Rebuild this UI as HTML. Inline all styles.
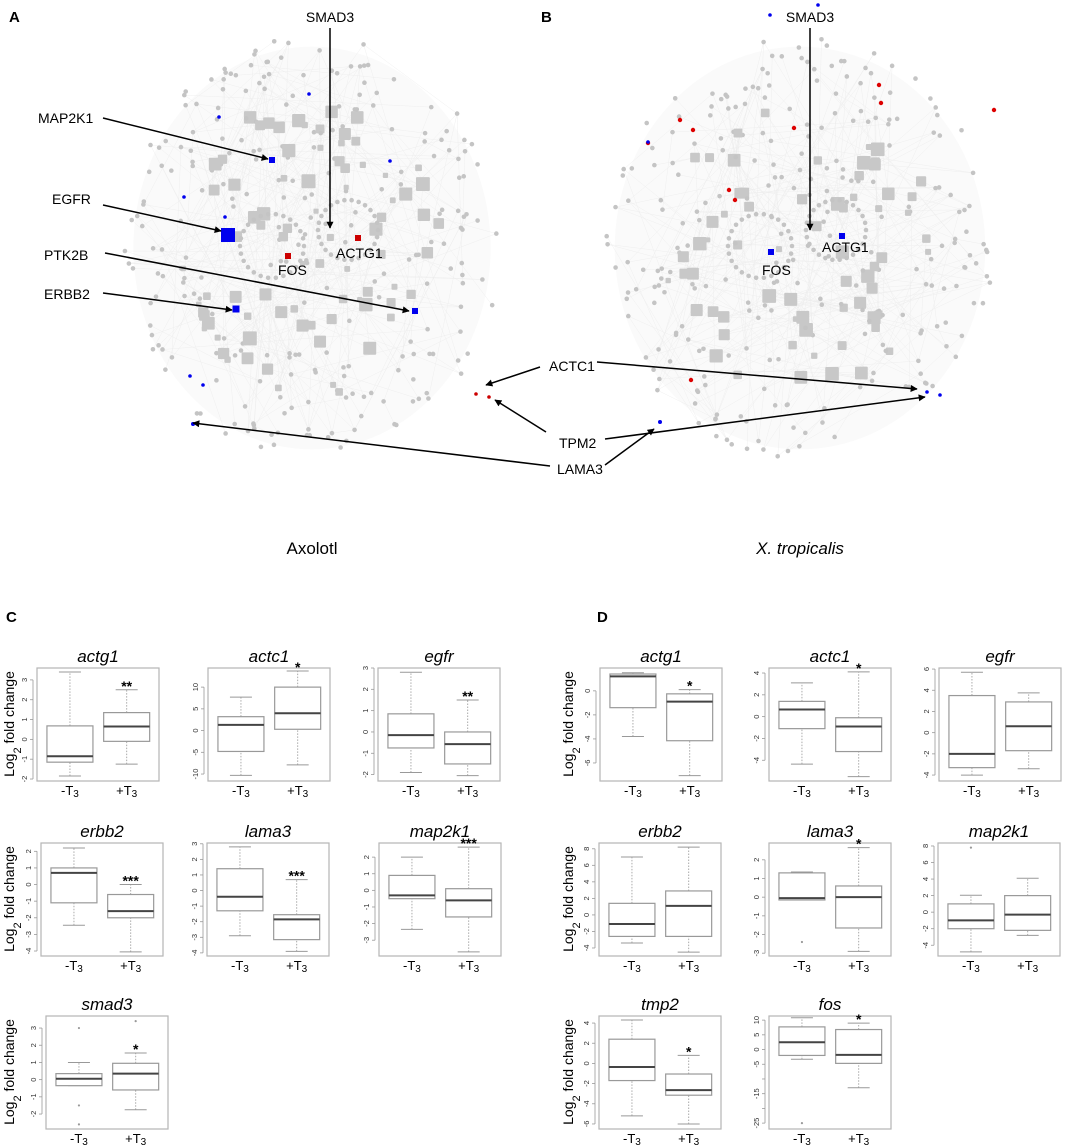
<!DOCTYPE html>
<html><head><meta charset="utf-8">
<style>
html,body{margin:0;padding:0;background:#fff;}
svg{display:block;font-family:"Liberation Sans",sans-serif;}
</style></head>
<body>
<svg id="fig" width="1084" height="1145" viewBox="0 0 1084 1145" xmlns="http://www.w3.org/2000/svg">
<defs>
<marker id="ah" viewBox="0 0 10 10" refX="9" refY="5" markerWidth="9" markerHeight="7" orient="auto" markerUnits="userSpaceOnUse"><path d="M0,0 L10,5 L0,10 z" fill="#000"/></marker>
</defs>
<g id="netA"></g>
<g id="netB"></g>
<g id="annot"></g>
<g id="boxes"></g>
<text x="9" y="22" font-size="15" font-weight="bold">A</text>
<text x="541" y="22" font-size="15" font-weight="bold">B</text>
<text x="6" y="622" font-size="15" font-weight="bold">C</text>
<text x="597" y="622" font-size="15" font-weight="bold">D</text>
<text x="312" y="554" font-size="17" text-anchor="middle">Axolotl</text>
<text x="800" y="554" font-size="17" font-style="italic" text-anchor="middle">X. tropicalis</text>
</svg>
<script>
// ---------- box plot data ----------
const genes = ["actg1","actc1","egfr","erbb2","lama3","map2k1","smad3","actg1","actc1","egfr","erbb2","lama3","map2k1","tmp2","fos"];
const panelSide = ["C","C","C","C","C","C","C","D","D","D","D","D","D","D","D"];
const yDomains = [[-2.1,3.6],[-11.6,14.4],[-2.3,3],[-4.3,2.5],[-4.2,3.05],[-3.95,2.85],[-2.87,3.7],
  [-7.5,1.9],[-5.9,4.46],[-4.56,6.1],[-4.97,8.7],[-3.15,2.9],[-5.3,8.36],[-6.5,4.7],[-27,11.4]];
const yTicks = [[-2,-1,0,1,2,3],[-10,-5,0,5,10],[-2,-1,0,1,2,3],[-4,-3,-2,-1,0,1,2],[-4,-3,-2,-1,0,1,2,3],[-3,-2,-1,0,1,2],[-2,-1,0,1,2,3],
  [-6,-4,-2,0],[-4,-2,0,2,4],[-4,-2,0,2,4,6],[-4,-2,0,2,4,6,8],[-3,-2,-1,0,1,2],[-4,-2,0,2,4,6,8],[-6,-4,-2,0,2,4],[-25,-20,-15,-10,-5,0,5,10]];
const yTickLabels = [["-2","-1","0","1","2","3"],["-10","-5","0","5","10"],["-2","-1","0","1","2","3"],["-4","-3","-2","-1","0","1","2"],["-4","-3","-2","-1","0","1","2","3"],["-3","-2","-1","0","1","2"],["-2","-1","0","1","2","3"],
  ["-6","-4","-2","0"],["-4","-2","0","2","4"],["-4","-2","0","2","4","6"],["-4","-2","0","2","4","6","8"],["-3","-2","-1","0","1","2"],["-4","-2","0","2","4","6","8"],["-6","-4","-2","0","2","4"],["-25","","-15","","-5","0","5","10"]];
// [lower whisker, q1, median, q3, upper whisker]
const minusT3 = [[-1.85,-1.15,-0.85,0.68,3.4],[-10.3,-4.8,1.3,3.2,7.7],[-1.9,-0.75,-0.15,0.85,2.8],[-2.45,-1.1,0.7,1,2.2],[-2.9,-1.3,-0.4,1.4,2.8],[-2.35,-0.5,-0.3,0.9,2.0],[-0.35,-0.35,0.05,0.35,1.0],
  [-3.8,-1.4,1.2,1.4,1.5],[-4.35,-1.1,0.65,1.4,3.1],[-4.0,-3.3,-2.0,3.5,5.7],[-3.4,-2.6,-1.1,1.4,7.0],[-0.15,-0.15,-0.05,1.3,1.35],[-4.8,-2,-1,1,2.05],[-5.2,-1.7,-0.35,2.4,4.3],[-3.3,-2,2.5,7.7,10.8]];
const plusT3 = [[-1.25,-0.1,0.65,1.35,2.5],[-7.9,0.3,4,10,13.7],[-2.05,-1.5,-0.57,0,1.5],[-4.05,-2,-1.6,-0.6,0],[-3.9,-3.15,-1.85,-1.55,0.7],[-3.7,-1.6,-0.6,0.1,2.6],[-1.75,-0.6,0.35,0.95,1.55],
  [-7.05,-4.15,-0.9,-0.25,0.1],[-5.5,-3.2,-0.9,-0.1,4.1],[-3.4,-1.7,0.6,2.9,3.75],[-4.5,-2.6,1.1,2.9,8.2],[-2.9,-1.65,0,0.6,2.65],[-2.8,-2.2,-0.3,2,4.1],[-6.0,-3.15,-2.65,-1.05,0.8],[-13,-4.7,-1.8,6.8,9]];
const minusOutliers = [[],[],[],[],[],[],[3,-1.5,-2.6],[],[],[],[],[-2.4],[7.8],[],[-25]];
const plusOutliers = [[],[],[],[],[],[],[3.4],[],[],[],[],[],[],[],[]];
const stars = ["**","*","**","***","***","***","*","*","*","","","*","","*","*"];

// frame layout (not data)
const frames = [[37,668],[208,668],[378,668],[41,843],[207,843],[379,843],[46,1016],
  [600,668],[769,668],[939,668],[599,843],[769,843],[938,843],[599,1016],[769,1016]];
const FW=122, FH=113;
const NS="http://www.w3.org/2000/svg";
function mk(tag, attrs, parent){const e=document.createElementNS(NS,tag);for(const k in attrs)e.setAttribute(k,attrs[k]);if(parent)parent.appendChild(e);return e;}

const boxes=document.getElementById('boxes');
genes.forEach((g,i)=>{
  const [fx,fy]=frames[i];
  const [d0,d1]=yDomains[i];
  const y=v=>fy+FH-(v-d0)/(d1-d0)*FH;
  const grp=mk('g',{},boxes);
  
  
  const fr=mk('rect',{x:fx,y:fy,width:FW,height:FH,fill:'none',stroke:'#b5b5b5','stroke-width':1.2},grp);
  
  
  const t=mk('text',{x:fx+FW/2,y:fy-6,'font-size':17,'font-style':'italic','text-anchor':'middle'},grp);
  t.textContent=g;
  
  
  const ticks=yTicks[i];
  const ax=fx-4;
  const axl=mk('line',{x1:ax,x2:ax,y1:y(ticks[0]),y2:y(ticks[ticks.length-1]),stroke:'#999','stroke-width':0.8},grp);
  
  
  ticks.forEach((tv,k)=>{
    mk('line',{x1:ax-3,x2:ax,y1:y(tv),y2:y(tv),stroke:'#999','stroke-width':0.8},grp);
    if(yTickLabels[i][k]!==""){
      const tl=mk('text',{x:0,y:0,'font-size':7.5,fill:'#333','text-anchor':'middle',transform:`translate(${ax-6},${y(tv)}) rotate(-90)`},grp);
      tl.textContent=yTickLabels[i][k];
      
      
    }
  });
  [[minusT3[i],minusOutliers[i],0.27,'-T'],[plusT3[i],plusOutliers[i],0.735,'+T']].forEach(([s,outs,cf,lab],j)=>{
    const cx=fx+cf*FW, bw=46;
    const bg=mk('g',{},grp);
    
    
    mk('line',{x1:cx,x2:cx,y1:y(s[0]),y2:y(s[1]),stroke:'#aaa','stroke-dasharray':'1.5,1.5'},bg);
    mk('line',{x1:cx,x2:cx,y1:y(s[3]),y2:y(s[4]),stroke:'#aaa','stroke-dasharray':'1.5,1.5'},bg);
    mk('line',{x1:cx-11,x2:cx+11,y1:y(s[0]),y2:y(s[0]),stroke:'#999'},bg);
    mk('line',{x1:cx-11,x2:cx+11,y1:y(s[4]),y2:y(s[4]),stroke:'#999'},bg);
    mk('rect',{x:cx-bw/2,y:y(s[3]),width:bw,height:Math.max(0.5,y(s[1])-y(s[3])),fill:'#fff',stroke:'#999','stroke-width':1.2},bg);
    mk('line',{x1:cx-bw/2,x2:cx+bw/2,y1:y(s[2]),y2:y(s[2]),stroke:'#444','stroke-width':2},bg);
    outs.forEach(o=>mk('circle',{cx:cx,cy:y(o),r:1.1,fill:'#999'},bg));
    const xl=mk('text',{x:cx,y:fy+FH+14,'font-size':13,'text-anchor':'middle'},grp);
    xl.textContent=lab;
    const sub=mk('tspan',{'font-size':10,dy:2},xl); sub.textContent='3';
    
    
    if(j===1 && stars[i]){
      const st=mk('text',{x:cx,y:y(s[4])+1,'font-size':14,'text-anchor':'middle','font-weight':'bold'},grp);
      st.textContent=stars[i];
      
      
    }
  });
});
[[14,724],[14,899],[14,1072],[573,724],[573,899],[573,1072]].forEach(([x,yc])=>{
  const t=mk('text',{'font-size':14,'text-anchor':'middle',transform:`translate(${x},${yc}) rotate(-90)`},boxes);
  t.textContent='Log';
  const s=mk('tspan',{'font-size':11,dy:7},t); s.textContent='2';
  const r=mk('tspan',{dy:-7},t); r.textContent=' fold change';
  
  
});

// ---------- networks (decorative, deterministic layout) ----------
let seed=12345;
function rnd(){seed=(seed*1103515245+12345)%2147483648;return seed/2147483648;}
function network(gid,cx,cy,rx,ry){
  const g=document.getElementById(gid);
  mk('ellipse',{cx:cx,cy:cy,rx:rx*0.95,ry:ry*0.95,fill:'#fafafa'},g);
  const pts=[];
  for(let k=0;k<330;k++){
    const a=rnd()*Math.PI*2, r=Math.sqrt(rnd())*1.0;
    pts.push([cx+Math.cos(a)*r*rx, cy+Math.sin(a)*r*ry]);
  }
  let d='';
  for(let k=0;k<260;k++){const p=pts[Math.floor(rnd()*pts.length)],q=pts[Math.floor(rnd()*pts.length)];d+=`M${p[0].toFixed(1)},${p[1].toFixed(1)}L${q[0].toFixed(1)},${q[1].toFixed(1)}`;}
  mk('path',{d:d,stroke:'#ececec','stroke-width':0.4,fill:'none'},g);
  pts.forEach((p,k)=>{
    const inner=Math.hypot((p[0]-cx)/rx,(p[1]-cy)/ry);
    if(inner<0.7 && rnd()<0.45){const s=5+rnd()*9;mk('rect',{x:p[0]-s/2,y:p[1]-s/2,width:s,height:s,rx:1,fill:'#c8c8c8'},g);}
    else mk('circle',{cx:p[0],cy:p[1],r:2.3,fill:'#c4c4c4'},g);
  });
  [[cx-40,cy-2,32],[cx+36,cy-18,30]].forEach(([rcx,rcy,rr])=>{
    for(let k=0;k<26;k++){const a=k/26*Math.PI*2;mk('circle',{cx:rcx+Math.cos(a)*rr,cy:rcy+Math.sin(a)*rr,r:2.3,fill:'#c4c4c4'},g);}
  });
}
network('netA',312,248,188,212);
network('netB',800,248,195,212);

const annot=document.getElementById('annot');
function node(x,y,s,c,name,circle){
  const e=circle?mk('circle',{cx:x,cy:y,r:s,fill:c},annot):mk('rect',{x:x-s/2,y:y-s/2,width:s,height:s,fill:c},annot);
  
  
}
node(272,160,6,'#0000ee','node-map2k1');
node(228,235,14,'#0000ee','node-egfr');
node(288,256,6,'#cc0000','node-fos-a');
node(358,238,6,'#cc0000','node-actg1-a');
node(415,311,6,'#0000ee','node-ptk2b');
node(236,309,7,'#0000ee','node-erbb2');
node(476,394,1.8,'#cc0000','node-actc1-a',true);
node(489,397,1.8,'#cc0000','node-tpm2-a',true);
node(193,424,2,'#0000ee','node-lama3-a',true);
[[309,94],[219,117],[390,161],[225,217],[184,197],[190,376],[203,385]].forEach(p=>node(p[0],p[1],1.8,'#0000ee','node-blue',true));
node(771,252,6,'#0000ee','node-fos-b');
node(842,236,6,'#0000ee','node-actg1-b');
node(927,392,1.8,'#0000ee','node-actc1-b',true);
node(940,395,1.8,'#0000ee','node-tpm2-b',true);
node(660,422,2,'#0000ee','node-lama3-b',true);
[[794,128],[994,110],[693,130],[729,190],[735,200],[680,120],[691,380],[881,103],[879,85],[648,143]].forEach(p=>node(p[0],p[1],2.2,'#dd0000','node-red',true));
[[770,15],[648,142],[818,5]].forEach(p=>node(p[0],p[1],1.8,'#0000ee','node-blue',true));

function label(x,y,txt,anchor){const t=mk('text',{x:x,y:y,'font-size':14,'text-anchor':anchor||'start'},annot);t.textContent=txt;}
function arrow(x1,y1,x2,y2,head){const l=mk('line',{x1:x1,y1:y1,x2:x2,y2:y2,stroke:'#000','stroke-width':1.5},annot);if(head!==false)l.setAttribute('marker-end','url(#ah)');}
label(330,22,'SMAD3','middle'); arrow(330,28,330,228);
label(810,22,'SMAD3','middle'); arrow(810,28,810,230);
label(38,123,'MAP2K1'); arrow(103,118,268,159);
label(52,204,'EGFR'); arrow(103,205,221,231);
label(44,260,'PTK2B'); arrow(105,253,409,311);
label(44,299,'ERBB2'); arrow(103,293,232,310);
label(278,275,'FOS'); label(336,258,'ACTG1');
label(762,275,'FOS'); label(822,252,'ACTG1');
label(549,371,'ACTC1'); arrow(540,367,486,385); arrow(597,362,917,389);
label(559,448,'TPM2'); arrow(546,432,495,400); arrow(605,439,925,397);
label(557,474,'LAMA3'); arrow(550,466,193,423); arrow(605,465,654,429);
</script>
</body></html>
